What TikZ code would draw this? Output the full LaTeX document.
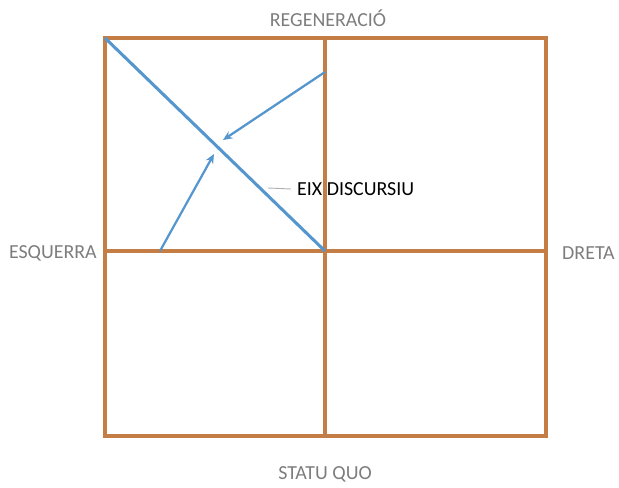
\documentclass[tikz,border=0pt]{standalone}
\usepackage{fontspec}
\setmainfont{Carlito}
\usepackage{tikz}
\usetikzlibrary{arrows.meta, positioning}
\definecolor{frameorange}{RGB}{197,125,70}
\definecolor{axisblue}{RGB}{84,150,205}
\definecolor{labelgray}{RGB}{125,125,125}
\tikzstyle{frame} = [line width=2.7pt, draw=frameorange]
\tikzstyle{arrow} = [line width=1.9pt, draw=axisblue, -{Stealth[length=8pt,width=7pt]}]

\begin{document}
\begin{tikzpicture}[
    x=0.03cm, y=-0.03cm,
    axislabel/.style={text=labelgray, font=\fontsize{17}{20}\selectfont, inner sep=0pt},
    every node/.style={align=center}
]
\useasboundingbox (0,0) rectangle (619,488);

% Corners and axes
\coordinate (tl) at (105,38);
\coordinate (br) at (546,436);
\coordinate (top) at (325,38);
\coordinate (bottom) at (325,436);
\coordinate (left) at (105,251);
\coordinate (right) at (546,251);
\coordinate (centre) at (325,251);

% Frame
\draw [frame] (tl) rectangle (br);
\draw [frame] (top) -- (bottom);
\draw [frame] (left) -- (right);

% Axis labels
\node (regen) [axislabel] at (328,18) {REGENERACIÓ};
\node (statu) [axislabel] at (325,474) {STATU QUO};
\node (esq) [axislabel, anchor=east] at (97,253) {ESQUERRA};
\node (dreta) [axislabel, anchor=west] at (562,253) {DRETA};

% Discourse axis
\draw [line width=2.6pt, axisblue] (tl) -- (centre);
\coordinate (a1start) at (325,72);
\coordinate (a1end) at (223,140);
\coordinate (a2start) at (160,251);
\coordinate (a2end) at (214,154);
\draw [arrow] (a1start) -- (a1end);
\draw [arrow] (a2start) -- (a2end);

% Label with leader
\coordinate (lead) at (268,188);
\node (eix) [anchor=west, font=\fontsize{17}{20}\selectfont, inner sep=0pt] at (297,189) {EIX DISCURSIU};
\draw [labelgray!60, line width=0.8pt] (lead) -- ([xshift=-5pt]eix.west);

\end{tikzpicture}
\end{document}
